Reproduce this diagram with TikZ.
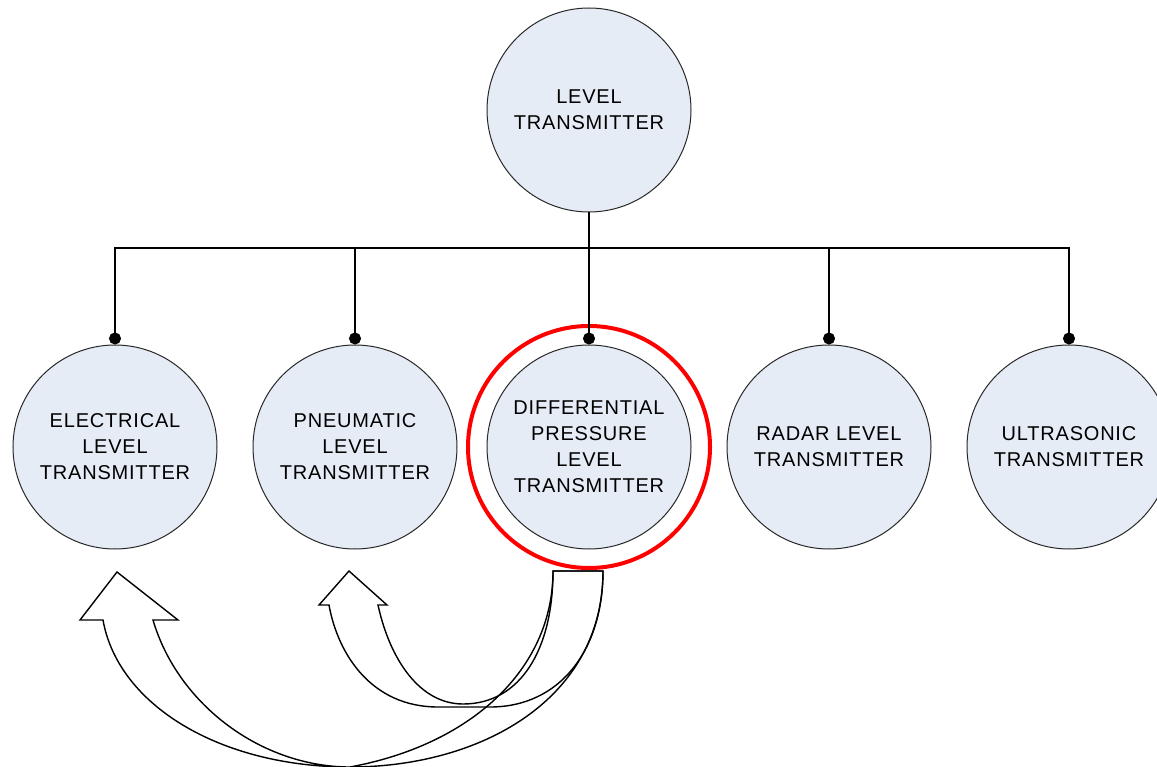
\documentclass[tikz,border=0pt]{standalone}
\usepackage{fontspec}
\setmainfont[LetterSpace=4]{Liberation Sans}
\usetikzlibrary{arrows.meta}
\definecolor{cfill}{RGB}{230,236,246}
\definecolor{cline}{RGB}{40,40,40}
\begin{document}
\begin{tikzpicture}[x=1pt,y=-1pt,
  tnode/.style={circle,draw=cline,line width=1pt,fill=cfill,minimum size=204pt,inner sep=0pt,align=center,
    font=\fontsize{20}{26}\selectfont},
  link/.style={line width=1.4pt,-{Circle[length=12pt]}},
  blockarrow/.style={line width=1.4pt,line join=miter}]
\useasboundingbox (0,0) rectangle (1157,767);
\node[tnode] (top) at (589,110) {LEVEL\\TRANSMITTER};
\node[tnode] (c1) at (115,447) {ELECTRICAL\\LEVEL\\TRANSMITTER};
\node[tnode] (c2) at (355,447) {PNEUMATIC\\LEVEL\\TRANSMITTER};
\node[tnode] (c3) at (589,447) {DIFFERENTIAL\\PRESSURE\\LEVEL\\TRANSMITTER};
\node[tnode] (c4) at (829,447) {RADAR LEVEL\\TRANSMITTER};
\node[tnode] (c5) at (1069,447) {ULTRASONIC\\TRANSMITTER};
\node[circle,draw=red,line width=4pt,minimum size=242pt,inner sep=0pt] (hl) at (589,447) {};
\coordinate (bus) at (589,248);
\draw[line width=1.4pt] (top.south) -- (bus);
\foreach \c in {c1,c2,c3,c4,c5}{
  \draw[link] (bus) -| (\c.north);
}
% small curved arrow to c2
\draw[blockarrow] (553,571) -- (603,571)
  .. controls (603,650) and (560,707) .. (490,707) -- (438,707)
  .. controls (372,707) and (338,655) .. (329,605) -- (319,605) -- (349,571) -- (387,605) -- (378,605)
  .. controls (390,660) and (420,704) .. (463,704)
  .. controls (520,704) and (553,650) .. cycle;
% big curved arrow to c1
\draw[blockarrow] (553,571) -- (603,571)
  .. controls (603,700) and (480,767) .. (350,767)
  .. controls (220,767) and (118,705) .. (103,620) -- (80,620) -- (117,572) -- (178,620) -- (153,620)
  .. controls (178,705) and (262,767) .. (350,767)
  .. controls (470,745) and (553,670) .. cycle;
\end{tikzpicture}
\end{document}
